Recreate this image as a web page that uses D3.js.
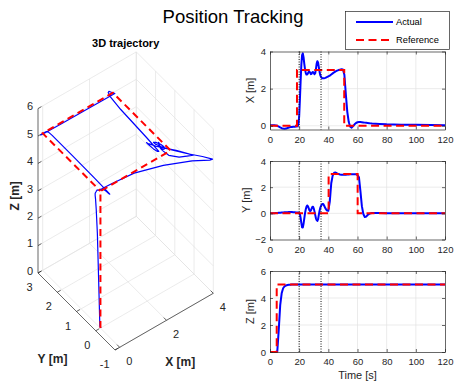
<!DOCTYPE html>
<html>
<head>
<meta charset="utf-8">
<script src="https://cdn.jsdelivr.net/npm/d3@7/dist/d3.min.js"></script>
<style>
  body { margin: 0; background: #fff; }
  svg { font-family: "Liberation Sans", Arial, sans-serif; }
</style>
</head>
<body>
<svg width="454" height="387"></svg>
<script>
// sample times of the logged flight [s]
var time = [0, 1, 2, 3, 4, 5, 6, 7, 8, 9, 10, 11, 12, 13, 14, 15, 16, 17, 18,
  19, 19.5, 20, 20.5, 21, 21.5, 22, 22.5, 23, 23.5, 24, 24.5, 25, 25.5, 26, 26.5, 27, 27.5, 28, 28.5,
  29, 29.5, 30, 30.5, 31, 31.5, 32, 32.5, 33, 33.5, 34, 34.5, 35, 35.5, 36, 36.5, 37,
  38, 39, 40, 41, 42, 43, 44, 45, 46, 47, 48, 49, 50, 51, 52, 53, 54, 55, 56, 57, 58, 59, 60,
  61, 62, 63, 64, 65, 66, 67, 68, 69, 70,
  75, 80, 90, 100, 110, 120];

// measured position [m]
var actualX = [0.03, 0.03, 0.03, 0.03, 0.02, 0.00, -0.04, -0.09, -0.13, -0.15, -0.16, -0.15, -0.12, -0.09, -0.07, -0.06, -0.05, -0.05, -0.04,
  -0.02, 0.10, 0.50, 1.40, 2.40, 3.30, 3.80, 3.90, 3.70, 3.35, 3.05, 2.85, 2.76, 2.76, 2.82, 2.90, 2.92, 2.86, 2.78, 2.80,
  2.88, 2.90, 2.84, 2.78, 2.82, 3.05, 3.35, 3.48, 3.40, 3.15, 2.90, 2.72, 2.63, 2.58, 2.56, 2.56, 2.56,
  2.58, 2.62, 2.66, 2.70, 2.76, 2.82, 2.88, 2.93, 2.97, 3.00, 3.02, 3.04, 3.03, 2.75, 1.70, 0.75, 0.20, -0.05, -0.10, -0.02, 0.08, 0.15, 0.19,
  0.20, 0.20, 0.19, 0.18, 0.17, 0.16, 0.15, 0.14, 0.13, 0.12,
  0.10, 0.08, 0.06, 0.05, 0.04, 0.03];

var actualY = [0, 0, 0, 0.01, 0.02, 0.03, 0.04, 0.05, 0.06, 0.07, 0.08, 0.09, 0.09, 0.10, 0.10, 0.10, 0.09, 0.08, 0.07,
  0.06, 0.05, 0.03, -0.05, -0.35, -0.75, -1.06, -1.08, -0.80, -0.40, 0.00, 0.30, 0.50, 0.60, 0.55, 0.40, 0.25, 0.17, 0.20, 0.35,
  0.48, 0.50, 0.38, 0.15, -0.12, -0.38, -0.52, -0.58, -0.45, -0.10, 0.20, 0.42, 0.58, 0.66, 0.71, 0.72, 0.62,
  0.38, 0.22, 0.20, 0.90, 2.30, 2.90, 3.10, 3.12, 3.05, 3.00, 2.97, 2.95, 2.94, 2.94, 2.95, 2.96, 2.97, 2.98, 2.98, 2.99, 2.99, 2.98, 2.93,
  2.75, 1.70, 0.55, -0.05, -0.28, -0.25, -0.12, -0.04, 0.00, 0.02,
  0.02, 0.01, 0.01, 0, 0, 0];

var actualZ = [0, 0, 0, 0, 0, 0.05, 1.64, 3.47, 4.35, 4.72, 4.87, 4.93, 4.96, 4.98, 4.99, 5, 5, 5, 5,
  5, 5, 5, 5, 5, 5, 5, 5, 5, 5, 5, 5, 5, 5, 5, 5, 5, 5, 5, 5,
  5, 5, 5, 5, 5, 5, 5, 5, 5, 5, 5, 5, 5, 5, 5, 5, 5,
  5, 5, 5, 5, 5, 5, 5, 5, 5, 5, 5, 5, 5, 5, 5, 5, 5, 5, 5, 5, 5, 5, 5,
  5, 5, 5, 5, 5, 5, 5, 5, 5, 5,
  5, 5, 5, 5, 5, 5];

// reference waypoints, each held until the next switch time [s]
var refTime = [0, 4.6, 18.5, 40.2, 50.9, 60.1];
var refX = [0, 0, 3, 3, 0, 0];
var refY = [0, 0, 0, 3, 3, 0];
var refZ = [0, 5, 5, 5, 5, 5];

// disturbance window markers [s]
var markTimes = [20, 35];

var timeTicks = [0, 20, 40, 60, 80, 100, 120];
var xTicks = [0, 2, 4];
var yTicks = [-2, 0, 2, 4];
var zTicks = [0, 2, 4, 6];

var ticks3x = [0, 2, 4];
var ticks3y = [-1, 0, 1, 2, 3];
var ticks3z = [0, 1, 2, 3, 4, 5, 6];

var BLUE = "#0000ff", RED = "#ff0000", AXIS = "#262626", GRID = "#e2e2e2";
var fmt = d3.format("d");

var svg = d3.select("svg");

// figure title
svg.append("text")
  .attr("x", 233).attr("y", 22.7)
  .attr("text-anchor", "middle")
  .attr("font-size", "18.5px")
  .attr("fill", "#000")
  .text("Position Tracking");

// ---------------- time series panels ----------------
var tScale = d3.scaleLinear().domain([0, 120]).range([270, 445]);

var panels = [
  { label: "X [m]", actual: actualX, ref: refX, ylim: [-0.2, 4], ticks: xTicks, top: 51.5, bottom: 129.5, labelX: 254 },
  { label: "Y [m]", actual: actualY, ref: refY, ylim: [-2, 4], ticks: yTicks, top: 161, bottom: 239.5, labelX: 249.5 },
  { label: "Z [m]", actual: actualZ, ref: refZ, ylim: [0, 6], ticks: zTicks, top: 271, bottom: 352, labelX: 254 }
];

panels.forEach(function (p, i) {
  var y = d3.scaleLinear().domain(p.ylim).range([p.bottom, p.top]);
  var g = svg.append("g");

  // grid
  g.append("g").selectAll("line")
    .data(timeTicks.slice(1, -1))
    .enter().append("line")
    .attr("x1", tScale).attr("x2", tScale)
    .attr("y1", p.top).attr("y2", p.bottom)
    .attr("stroke", GRID).attr("stroke-width", 0.7);
  g.append("g").selectAll("line")
    .data(p.ticks.filter(function (v) { return v > p.ylim[0] && v < p.ylim[1]; }))
    .enter().append("line")
    .attr("x1", tScale.range()[0]).attr("x2", tScale.range()[1])
    .attr("y1", y).attr("y2", y)
    .attr("stroke", GRID).attr("stroke-width", 0.7);

  // actual trace
  g.append("path")
    .datum(time.map(function (t, k) { return [t, p.actual[k]]; }))
    .attr("d", d3.line().x(function (d) { return tScale(d[0]); }).y(function (d) { return y(d[1]); }))
    .attr("fill", "none")
    .attr("stroke", BLUE)
    .attr("stroke-width", 2)
    .attr("stroke-linejoin", "round");

  // reference trace (held steps)
  var rt = refTime.concat([120]);
  var rv = p.ref.concat([p.ref[p.ref.length - 1]]);
  g.append("path")
    .datum(rt.map(function (t, k) { return [t, rv[k]]; }))
    .attr("d", d3.line().curve(d3.curveStepAfter)
      .x(function (d) { return tScale(d[0]); }).y(function (d) { return y(d[1]); }))
    .attr("fill", "none")
    .attr("stroke", RED)
    .attr("stroke-width", 2)
    .attr("stroke-dasharray", "8,4.5");

  // disturbance window
  g.append("g").selectAll("line")
    .data(markTimes)
    .enter().append("line")
    .attr("x1", tScale).attr("x2", tScale)
    .attr("y1", p.top).attr("y2", p.bottom)
    .attr("stroke", "#111").attr("stroke-width", 1)
    .attr("stroke-dasharray", "1,1.5");

  // axes (box, inward ticks)
  var bottom = g.append("g")
    .attr("transform", "translate(0," + p.bottom + ")")
    .call(d3.axisBottom(tScale).tickValues(timeTicks).tickFormat(fmt).tickSizeInner(-3).tickSizeOuter(0).tickPadding(6.5));
  var top = g.append("g")
    .attr("transform", "translate(0," + p.top + ")")
    .call(d3.axisTop(tScale).tickValues(timeTicks).tickSizeInner(-3).tickSizeOuter(0).tickFormat(""));
  var left = g.append("g")
    .attr("transform", "translate(" + tScale.range()[0] + ",0)")
    .call(d3.axisLeft(y).tickValues(p.ticks).tickFormat(fmt).tickSizeInner(-3).tickSizeOuter(0).tickPadding(4));
  var right = g.append("g")
    .attr("transform", "translate(" + tScale.range()[1] + ",0)")
    .call(d3.axisRight(y).tickValues(p.ticks).tickSizeInner(-3).tickSizeOuter(0).tickFormat(""));

  [bottom, top, left, right].forEach(function (a) {
    a.attr("color", AXIS).attr("font-family", null).attr("font-size", "9.5px");
    a.selectAll("path, line").attr("stroke-width", 0.7);
    a.selectAll("text").attr("fill", AXIS);
  });

  // y label
  g.append("text")
    .attr("transform", "translate(" + p.labelX + "," + ((p.top + p.bottom) / 2) + ") rotate(-90)")
    .attr("text-anchor", "middle")
    .attr("font-size", "11px")
    .attr("fill", AXIS)
    .text(p.label);

  if (i === panels.length - 1) {
    g.append("text")
      .attr("x", (tScale.range()[0] + tScale.range()[1]) / 2)
      .attr("y", p.bottom + 27)
      .attr("text-anchor", "middle")
      .attr("font-size", "11px")
      .attr("fill", AXIS)
      .text("Time [s]");
  }
});

// ---------------- 3D trajectory ----------------
var lim3 = { x: [-0.2, 4], y: [-1, 3], z: [0, 6] };

// normalized box coordinates, then the projected box edges (view -37.5, 30)
var nx = d3.scaleLinear().domain(lim3.x).range([0, 1]);
var ny = d3.scaleLinear().domain(lim3.y).range([0, 1]);
var nz = d3.scaleLinear().domain(lim3.z).range([0, 1]);
var O = [115, 350], VX = [98.3, -56.7], VY = [-77, -77], VZ = [0, -164.4];

function proj(x, y, z) {
  var a = nx(x), b = ny(y), c = nz(z);
  return [O[0] + a * VX[0] + b * VY[0] + c * VZ[0],
          O[1] + a * VX[1] + b * VY[1] + c * VZ[1]];
}

var g3 = svg.append("g");
var xmin = lim3.x[0], xmax = lim3.x[1], ymin = lim3.y[0], ymax = lim3.y[1], zmin = lim3.z[0], zmax = lim3.z[1];

var gridSegs = [];
// floor
ticks3x.forEach(function (x) { gridSegs.push([proj(x, ymin, zmin), proj(x, ymax, zmin)]); });
ticks3y.forEach(function (y) { gridSegs.push([proj(xmin, y, zmin), proj(xmax, y, zmin)]); });
// back wall y = ymax
ticks3x.forEach(function (x) { gridSegs.push([proj(x, ymax, zmin), proj(x, ymax, zmax)]); });
ticks3z.forEach(function (z) { gridSegs.push([proj(xmin, ymax, z), proj(xmax, ymax, z)]); });
// back wall x = xmax
ticks3y.forEach(function (y) { gridSegs.push([proj(xmax, y, zmin), proj(xmax, y, zmax)]); });
ticks3z.forEach(function (z) { gridSegs.push([proj(xmax, ymin, z), proj(xmax, ymax, z)]); });

g3.append("g").selectAll("line")
  .data(gridSegs)
  .enter().append("line")
  .attr("x1", function (d) { return d[0][0]; }).attr("y1", function (d) { return d[0][1]; })
  .attr("x2", function (d) { return d[1][0]; }).attr("y2", function (d) { return d[1][1]; })
  .attr("stroke", GRID).attr("stroke-width", 0.7);

// axis lines
var axisSegs = [
  [proj(xmin, ymin, zmin), proj(xmax, ymin, zmin)],
  [proj(xmin, ymin, zmin), proj(xmin, ymax, zmin)],
  [proj(xmin, ymax, zmin), proj(xmin, ymax, zmax)]
];
// tick marks
var tl = 0.035;
ticks3x.forEach(function (x) { axisSegs.push([proj(x, ymin, zmin), proj(x, ymin + tl * (ymax - ymin), zmin)]); });
ticks3y.forEach(function (y) { axisSegs.push([proj(xmin, y, zmin), proj(xmin + tl * (xmax - xmin), y, zmin)]); });
ticks3z.forEach(function (z) { axisSegs.push([proj(xmin, ymax, z), proj(xmin + tl * (xmax - xmin), ymax, z)]); });

g3.append("g").selectAll("line")
  .data(axisSegs)
  .enter().append("line")
  .attr("x1", function (d) { return d[0][0]; }).attr("y1", function (d) { return d[0][1]; })
  .attr("x2", function (d) { return d[1][0]; }).attr("y2", function (d) { return d[1][1]; })
  .attr("stroke", AXIS).attr("stroke-width", 0.7);

// tick labels
var lab3 = g3.append("g").attr("font-size", "11px").attr("fill", AXIS);
lab3.selectAll(".tx").data(ticks3x).enter().append("text")
  .attr("x", function (d) { return proj(d, ymin, zmin)[0] + 6.5; })
  .attr("y", function (d) { return proj(d, ymin, zmin)[1] + 13.5; })
  .attr("dominant-baseline", "central")
  .text(function (d) { return d; });
lab3.selectAll(".ty").data(ticks3y).enter().append("text")
  .attr("x", function (d) { return proj(xmin, d, zmin)[0] - 5.5; })
  .attr("y", function (d) { return proj(xmin, d, zmin)[1] + 14; })
  .attr("text-anchor", "end")
  .attr("dominant-baseline", "central")
  .text(function (d) { return d; });
lab3.selectAll(".tz").data(ticks3z).enter().append("text")
  .attr("x", function (d) { return proj(xmin, ymax, d)[0] - 5; })
  .attr("y", function (d) { return proj(xmin, ymax, d)[1] - 2.3; })
  .attr("text-anchor", "end")
  .attr("dominant-baseline", "central")
  .text(function (d) { return d; });

// axis labels
var xl = proj((xmin + xmax) / 2, ymin, zmin), yl = proj(xmin, (ymin + ymax) / 2, zmin), zl = proj(xmin, ymax, (zmin + zmax) / 2);
g3.append("text").attr("x", xl[0] + 16).attr("y", xl[1] + 40)
  .attr("text-anchor", "middle").attr("dominant-baseline", "central")
  .attr("font-size", "12px").attr("font-weight", "bold").attr("fill", AXIS)
  .text("X [m]");
g3.append("text").attr("x", yl[0] - 24).attr("y", yl[1] + 47)
  .attr("text-anchor", "middle").attr("dominant-baseline", "central")
  .attr("font-size", "12px").attr("font-weight", "bold").attr("fill", AXIS)
  .text("Y [m]");
g3.append("text").attr("transform", "translate(" + (zl[0] - 23) + "," + (zl[1] + 5) + ") rotate(-90)")
  .attr("text-anchor", "middle").attr("dominant-baseline", "central")
  .attr("font-size", "12px").attr("font-weight", "bold").attr("fill", AXIS)
  .text("Z [m]");

g3.append("text")
  .attr("x", (proj(xmin, ymax, zmin)[0] + proj(xmax, ymin, zmin)[0]) / 2)
  .attr("y", 47)
  .attr("text-anchor", "middle")
  .attr("font-size", "11px").attr("font-weight", "bold").attr("fill", "#000")
  .text("3D trajectory");

// trajectories
var line3 = d3.line().x(function (d) { return d[0]; }).y(function (d) { return d[1]; });
g3.append("path")
  .datum(time.map(function (t, k) { return proj(actualX[k], actualY[k], actualZ[k]); }))
  .attr("d", line3)
  .attr("fill", "none").attr("stroke", BLUE).attr("stroke-width", 1.2)
  .attr("stroke-linejoin", "round");
g3.append("path")
  .datum(refTime.map(function (t, k) { return proj(refX[k], refY[k], refZ[k]); }))
  .attr("d", line3)
  .attr("fill", "none").attr("stroke", RED).attr("stroke-width", 2)
  .attr("stroke-dasharray", "7,4.5");

// ---------------- legend ----------------
var leg = svg.append("g");
leg.append("rect")
  .attr("x", 345.5).attr("y", 11.5).attr("width", 104).attr("height", 38)
  .attr("fill", "#fff").attr("stroke", AXIS).attr("stroke-width", 0.7);
var legItems = [
  { name: "Actual", color: BLUE, dash: null },
  { name: "Reference", color: RED, dash: "8,4.5" }
];
legItems.forEach(function (d, i) {
  var yy = 22 + i * 18;
  leg.append("line")
    .attr("x1", 356).attr("x2", 393).attr("y1", yy).attr("y2", yy)
    .attr("stroke", d.color).attr("stroke-width", 2)
    .attr("stroke-dasharray", d.dash);
  leg.append("text")
    .attr("x", 396).attr("y", yy)
    .attr("dominant-baseline", "central")
    .attr("font-size", "9.3px").attr("fill", "#000")
    .text(d.name);
});
</script>
</body>
</html>
